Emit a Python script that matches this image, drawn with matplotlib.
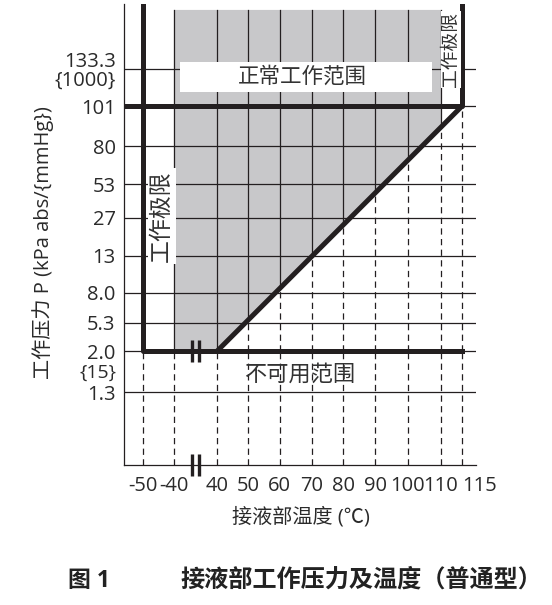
import numpy as np
import matplotlib
matplotlib.use("Agg")
import matplotlib.pyplot as plt
from matplotlib.patches import Rectangle

plt.rcParams['font.family'] = ['Open Sans', 'Noto Sans CJK SC', 'DejaVu Sans']

# data
temps = [-50, -40, 40, 50, 60, 70, 80, 90, 100, 110, 115]
temp_labels = ['-50', '-40', '40', '50', '60', '70', '80', '90', '100', '110', '115']
pressures = [1.3, 2.0, 5.3, 8.0, 13, 27, 53, 80, 101, 133.3]
pressure_labels = ['1.3', '2.0', '5.3', '8.0', '13', '27', '53', '80', '101', '133.3\n{1000}']

t_min, t_max = -50, 115          # working limits (temperature)
p_min, p_max = 2.0, 101          # working limits (pressure)
t_knee = 40                      # diagonal starts here at p_min
shade_t = (-40, 110)             # shaded normal range

# broken / uneven scales of the drawing (slot positions)
x_slot = [0, 0.97, 2.33, 3.3, 4.3, 5.3, 6.3, 7.3, 8.33, 9.37, 10.03]
y_slot = [1.97, 3.08, 3.84, 4.65, 5.65, 6.68, 7.59, 8.62, 9.70, 10.70]


def X(t):
    return np.interp(t, temps, x_slot)


def Y(p):
    return np.interp(p, pressures, y_slot)


ink = '#231f20'
gray = '#c8c8ca'
txt = '#2a2a2a'
fig = plt.figure(figsize=(5.52, 6.05), dpi=100)
ax = fig.add_axes([124 / 552, 140 / 605, 352 / 552, 461 / 605])
x0, x1 = -0.6, 10.47
y0, y1 = 0, 12.46
top = 12.3
ax.set_xlim(x0, x1)
ax.set_ylim(y0, y1)

# diagonal limit line
dx = [X(t_knee), X(t_max)]
dy = [Y(p_min), Y(p_max)]


def diag(x):
    return np.interp(x, dx, dy)


# shaded normal working range
xs = [X(shade_t[0]), X(t_knee), X(shade_t[1]), X(shade_t[1]), X(shade_t[0])]
ys = [Y(p_min), Y(p_min), diag(X(shade_t[1])), top, top]
ax.fill(xs, ys, color=gray, lw=0, zorder=1)

thin = dict(color=ink, lw=0.9, zorder=2)
dash = dict(color=ink, lw=0.9, ls=(0, (5, 3.5)), zorder=2)
thick = dict(color=ink, lw=3.6, zorder=4, solid_capstyle='projecting')

# horizontal grid
for p in pressures:
    ax.plot([x0, x1], [Y(p), Y(p)], **thin)

# vertical grid
for t in temps:
    x = X(t)
    ax.plot([x, x], [0, Y(p_min)], **dash)
    if t in (t_min, t_max):
        continue
    if t <= t_knee:
        ax.plot([x, x], [Y(p_min), top], **thin)
    else:
        yd = diag(x)
        ax.plot([x, x], [Y(p_min), yd], **dash)
        ax.plot([x, x], [yd, top], **thin)
ax.plot([X(t_max)] * 2, [Y(p_min), Y(p_max)], **dash)

# limit lines
ax.plot([X(t_min), X(t_min), X(t_max)], [y1 - 0.03, Y(p_min), Y(p_min)], **thick)
ax.plot([x0, X(t_max), X(t_max)], [Y(p_max), Y(p_max), y1], **thick)
ax.plot(dx, dy, color=ink, lw=3.6, zorder=4, solid_capstyle='round')

# break marks
xb = (X(-40) + X(40)) / 2
for yb in (Y(p_min), 0):
    for off in (-0.1, 0.1):
        ax.plot([xb + off, xb + off], [yb - 0.3, yb + 0.3], color=ink, lw=2.4,
                zorder=5, clip_on=False, solid_capstyle='butt')

# labels inside
ax.add_patch(Rectangle((1.16, 10.08), 7.93, 0.81, color='white', lw=0, zorder=3))
ax.text(5.0, 10.48, '正常工作范围', ha='center', va='center', fontsize=15.5,
        color='#333333', zorder=5)
ax.text(0.6, 6.73, '工作极限', rotation=90, ha='center', va='center', fontsize=16.5,
        color='#333333', zorder=5,
        bbox=dict(boxstyle='square,pad=0.08', fc='white', ec='none'))
ax.text(9.69, 11.22, '工作极限', rotation=90, ha='center', va='center', fontsize=13.5,
        color='#333333', zorder=5,
        bbox=dict(boxstyle='square,pad=0.05', fc='white', ec='none'))
ax.text(4.94, 2.44, '不可用范围', ha='center', va='center', fontsize=16,
        color='#333333', zorder=5)

# axes
for s in ('top', 'right'):
    ax.spines[s].set_visible(False)
for s in ('left', 'bottom'):
    ax.spines[s].set_linewidth(0.9)
    ax.spines[s].set_color(ink)
ax.set_xticks(x_slot)
ax.set_xticklabels(temp_labels)
ax.set_yticks(y_slot)
ax.set_yticklabels(pressure_labels, linespacing=0.92)
ax.tick_params(length=0, labelsize=14.5, labelcolor=txt)
ax.tick_params(axis='y', pad=6)
ax.tick_params(axis='x', pad=8)
ax.get_xticklabels()[-1].set_ha('left')
ax.text(-0.02, Y(p_min) - 0.6, '{15}', transform=ax.get_yaxis_transform(),
        ha='right', va='center', fontsize=14, color=txt)

fig.text(301 / 552, 1 - 517 / 605, '接液部温度 (℃)', ha='center', va='center',
         fontsize=14.5, color=txt)
fig.text(43 / 552, 1 - 243 / 605, '工作压力 P (kPa abs/{mmHg})', rotation=90,
         ha='center', va='center', fontsize=14.5, color=txt)

fig.text(89 / 552, 1 - 581 / 605, '图 1', ha='center', va='center',
         fontsize=16.5, fontweight='bold', color='#222222')
fig.text(180 / 552, 1 - 581 / 605, '接液部工作压力及温度（普通型）', ha='left',
         va='center', fontsize=17.4, fontweight='bold', color='#222222')

fig.savefig('out.png', dpi=100)
